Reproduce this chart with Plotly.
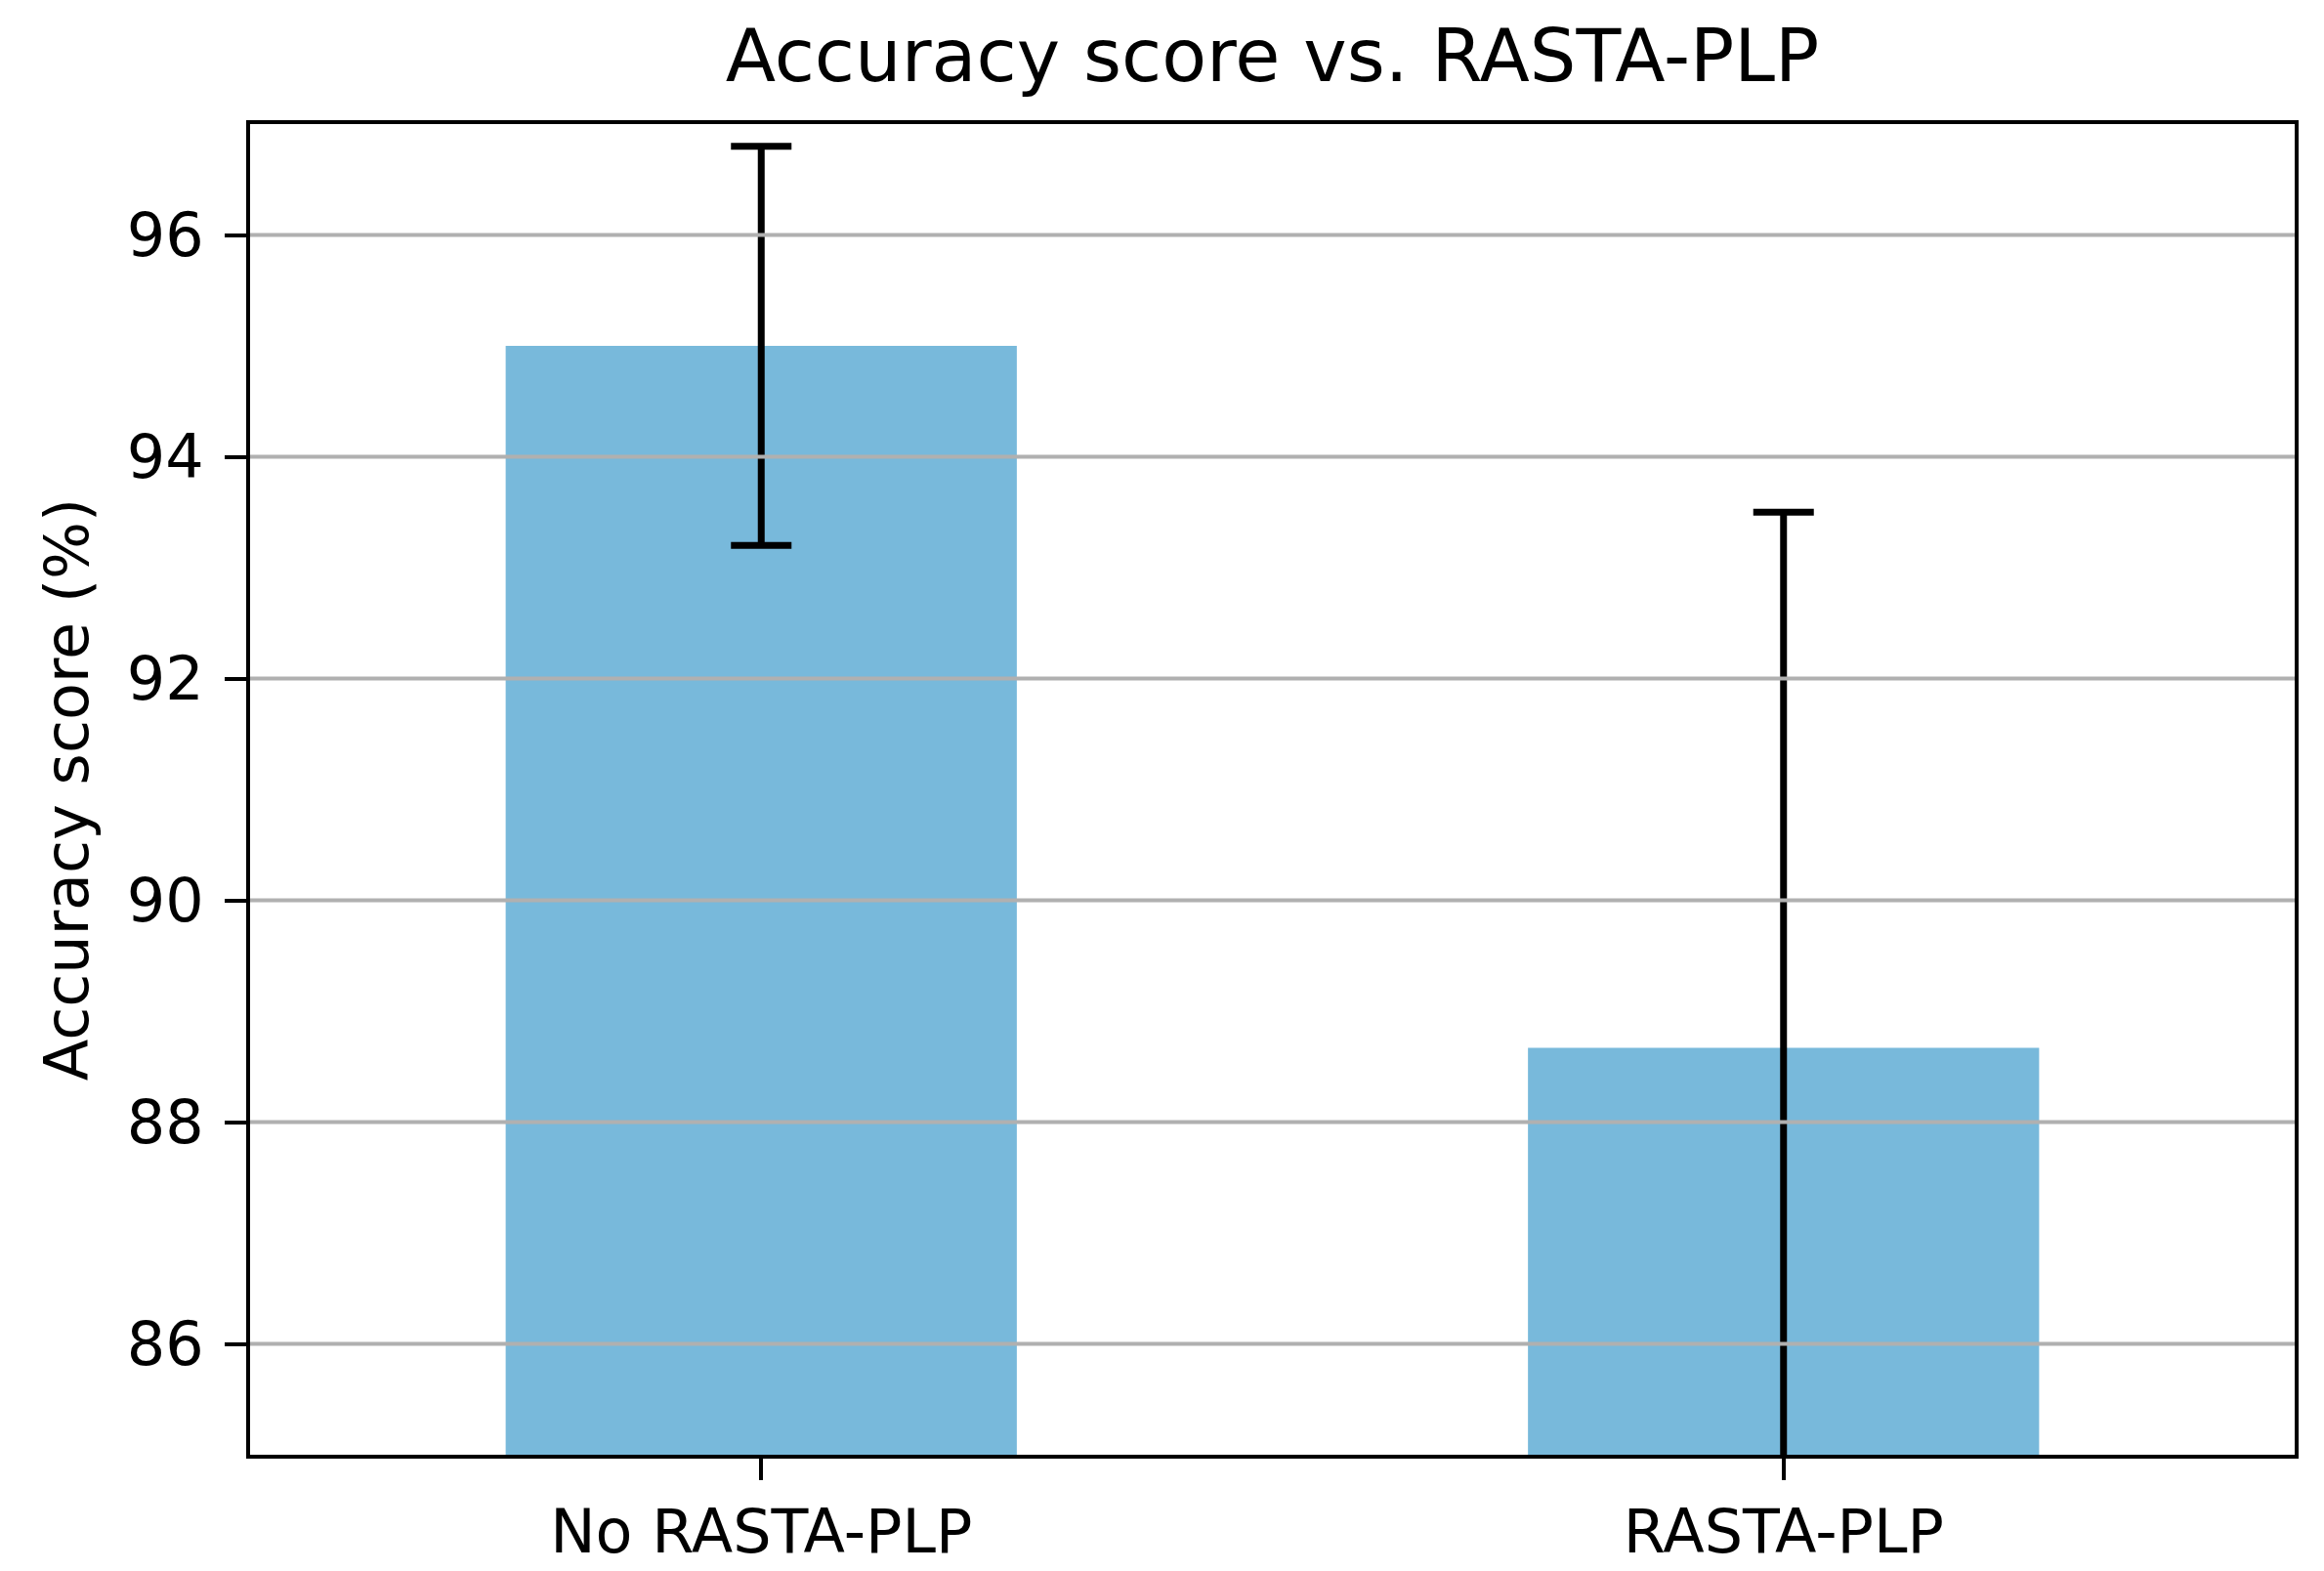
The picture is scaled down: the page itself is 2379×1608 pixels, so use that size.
import plotly.graph_objects as go

categories = ["No RASTA-PLP", "RASTA-PLP"]
accuracy = [95.0, 88.67]
error = [1.8, 4.83]
y_ticks = [86, 88, 90, 92, 94, 96]

BAR_COLOR = "#78B9DB"
FONT = "DejaVu Sans"

fig = go.Figure()
fig.add_trace(go.Bar(
    x=[0, 1],
    y=accuracy,
    width=0.5,
    marker=dict(color=BAR_COLOR, line=dict(width=0)),
    error_y=dict(type="data", array=error, visible=True, color="black",
                 thickness=7, width=31),
    showlegend=False,
))

# gridlines drawn above bars (matplotlib default look)
for t in y_ticks:
    fig.add_shape(type="line", xref="paper", x0=0, x1=1, yref="y", y0=t, y1=t,
                  line=dict(color="#b0b0b0", width=4), layer="above")

fig.update_layout(
    width=2379, height=1608,
    margin=dict(l=248, r=38, t=119, b=127),
    paper_bgcolor="white", plot_bgcolor="white",
    font=dict(family=FONT, size=62, color="black"),
    title=dict(text="Accuracy score vs. RASTA-PLP", x=0.5, xref="paper",
               y=1 - 49 / 1608, yref="container", yanchor="middle",
               xanchor="center", font=dict(size=75, family=FONT, color="black")),
    bargap=0.5,
)
fig.update_xaxes(
    range=[-0.5, 1.5], tickvals=[0, 1], ticktext=categories,
    showgrid=False, zeroline=False,
    showline=True, mirror=True, linecolor="black", linewidth=4,
    ticks="outside", ticklen=22, tickwidth=4, tickcolor="black",
    tickfont=dict(size=62, family=FONT, color="black"),
)
fig.update_yaxes(
    range=[85, 97], tickvals=y_ticks, ticktext=[str(t) for t in y_ticks],
    showgrid=False, zeroline=False,
    showline=True, mirror=True, linecolor="black", linewidth=4,
    ticks="outside", ticklen=22, tickwidth=4, tickcolor="black",
    ticklabelstandoff=9,
    tickfont=dict(size=62, family=FONT, color="black"),
    title=dict(text="Accuracy score (%)", standoff=20,
               font=dict(size=62, family=FONT, color="black")),
)

fig.write_html("out.html")
